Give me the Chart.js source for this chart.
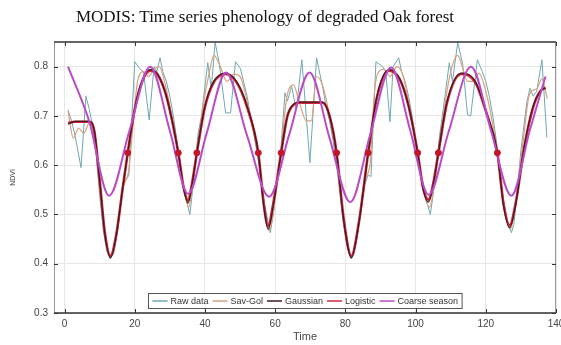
<!DOCTYPE html>
<html>
<head>
<meta charset="utf-8">
<script src="https://cdn.jsdelivr.net/npm/chart.js@4.4.1/dist/chart.umd.min.js"></script>
<style>
    html, body { margin: 0; padding: 0; background: #fff; }
    #wrap { position: relative; width: 561px; height: 345px; }
    #title {
        position: absolute; left: 0; top: 8px; width: 530px;
        text-align: center; line-height: 17px;
        font-family: "Liberation Serif", "Times New Roman", serif;
        font-size: 17px; color: #111;
    }
    canvas { position: absolute; left: 0; top: 0; }
</style>
</head>
<body>
<div id="wrap">
    <canvas id="chart" width="561" height="345"></canvas>
    <div id="title">MODIS: Time series phenology of degraded Oak forest</div>
</div>
<script>
const xTicks = [0, 20, 40, 60, 80, 100, 120, 140];
const yTicks = [0.3, 0.4, 0.5, 0.6, 0.7, 0.8];

// raw NDVI samples
const rawT = [1, 2, 3, 4.7, 6.1, 7, 8, 9, 10, 11, 12, 13, 14, 15, 16, 17, 18.3, 20, 21.5, 22.5, 24.1, 25.5, 26.3, 27.2, 28, 29, 30, 31, 32, 33, 34, 35, 35.7,
    36.5, 37.3, 38, 39, 40.8, 41.8, 42.9, 44, 45.9, 47.3, 48.7, 50.1, 51, 52, 53, 54, 55, 56, 57, 58.6, 59.5, 60.5, 61.5, 62.8, 63.5, 64.7, 66, 67.6, 69.9,
    71.8, 73.6, 74.5, 75.5, 76.5, 77.5, 78.5, 79.5, 80.5, 81.7, 82.5, 83.5, 84.5, 85.5, 86.5, 87.3, 88.7, 90.6, 91.5, 92.7, 93.6, 95.2, 96, 97, 98, 99, 100,
    101, 102, 103, 104.2, 105, 106, 106.8, 108, 109.6, 110.5, 112, 113.4, 114.8, 115.7, 117.6, 119, 120, 121, 122, 123, 124, 125, 126, 127.3, 128, 129, 130,
    131.7, 132.6, 133.5, 134.5, 136, 137.4];
const rawY = [0.712, 0.69, 0.66, 0.595, 0.74, 0.715, 0.68, 0.62, 0.54, 0.47, 0.425, 0.41, 0.42, 0.46, 0.52, 0.57, 0.578, 0.81, 0.795, 0.79, 0.692, 0.80, 0.79, 0.818, 0.79, 0.77, 0.74, 0.70, 0.65, 0.60, 0.55, 0.52, 0.50,
    0.55, 0.61, 0.662, 0.70, 0.808, 0.756, 0.849, 0.81, 0.706, 0.706, 0.81, 0.796, 0.77, 0.74, 0.70, 0.66, 0.62, 0.57, 0.52, 0.463, 0.50, 0.57, 0.62, 0.747, 0.73, 0.76, 0.712, 0.814, 0.605,
    0.818, 0.756, 0.72, 0.69, 0.65, 0.60, 0.54, 0.48, 0.435, 0.41, 0.42, 0.46, 0.51, 0.56, 0.58, 0.577, 0.81, 0.80, 0.79, 0.688, 0.80, 0.818, 0.79, 0.77, 0.74, 0.70, 0.65,
    0.60, 0.56, 0.53, 0.50, 0.54, 0.60, 0.658, 0.72, 0.808, 0.77, 0.849, 0.806, 0.702, 0.70, 0.814, 0.79, 0.77, 0.74, 0.70, 0.65, 0.59, 0.53, 0.49, 0.463, 0.48, 0.55, 0.63,
    0.729, 0.756, 0.74, 0.75, 0.814, 0.656];

const savT = [1, 2.5, 4, 5.5, 7, 8.5, 10, 11.5, 13, 14.8, 16.5, 18.3, 19.5, 20.8, 22.5, 24, 25.5, 27, 28.5, 30, 32.4, 34, 35.4, 36.5, 38, 39.5, 41, 42.6, 44,
    46.3, 48.2, 50, 52, 55, 56.7, 58.3, 60, 61.7, 63.3, 65.2, 66.8, 68.9, 70.3, 71.8, 73.6, 75.5, 77.5, 79.5, 81.7, 83.8, 85.5, 87, 88.3, 89.5, 91, 92.7,
    94.7, 96.5, 98.5, 100.6, 102.2, 104, 105.3, 106.8, 108.5, 110, 112, 113.3, 114.8, 116.6, 118, 120, 123, 125, 127, 128.5, 130.5, 132.5, 134.5, 136, 137.5];
const savY = [0.71, 0.655, 0.675, 0.665, 0.685, 0.665, 0.56, 0.46, 0.418, 0.46, 0.55, 0.59, 0.68, 0.77, 0.79, 0.78, 0.795, 0.80, 0.77, 0.72, 0.625, 0.55, 0.515, 0.56, 0.64, 0.72, 0.78, 0.823, 0.807,
    0.77, 0.785, 0.78, 0.73, 0.63, 0.53, 0.467, 0.53, 0.63, 0.737, 0.763, 0.73, 0.69, 0.69, 0.78, 0.76, 0.70, 0.62, 0.49, 0.415, 0.48, 0.57, 0.60, 0.75, 0.79, 0.795, 0.78,
    0.80, 0.78, 0.71, 0.625, 0.55, 0.515, 0.56, 0.64, 0.73, 0.79, 0.823, 0.80, 0.77, 0.77, 0.787, 0.75, 0.64, 0.53, 0.47, 0.52, 0.64, 0.745, 0.755, 0.775, 0.735];

const gaussT = [1, 3, 7, 8.5, 10, 11.5, 13.1, 14.8, 16.5, 18, 20, 22, 24.4, 26.5, 29, 32.4, 34, 35.2, 36.3, 37.7, 40, 42.5, 45.9, 49, 52, 55.2, 56.7, 58,
    59.5, 61.7, 63.5, 65.5, 67, 73.5, 75.5, 77.5, 79.5, 81.7, 83.8, 86.5, 89, 92.4, 95.5, 98, 100.6, 102.2, 103.7, 105, 106.5, 109, 113, 117, 120, 123.3,
    125, 126.8, 128.5, 131, 133.5, 135.5, 137];
const gaussY = [0.683, 0.689, 0.689, 0.67, 0.57, 0.46, 0.412, 0.46, 0.55, 0.625, 0.715, 0.77, 0.794, 0.785, 0.74, 0.625, 0.55, 0.523, 0.56, 0.625, 0.72, 0.77, 0.787, 0.77, 0.72, 0.625, 0.52, 0.47,
    0.52, 0.625, 0.70, 0.725, 0.728, 0.728, 0.70, 0.625, 0.49, 0.412, 0.48, 0.625, 0.74, 0.794, 0.775, 0.72, 0.625, 0.55, 0.525, 0.56, 0.625, 0.73, 0.787, 0.77, 0.71, 0.625,
    0.52, 0.473, 0.52, 0.64, 0.72, 0.75, 0.757];

const logT = [1, 3, 7, 8.5, 10, 11.5, 13.1, 14.8, 16.5, 18, 20, 22, 24.4, 26.5, 29, 32.4, 34, 35.2, 36.3, 37.7, 40, 42.5, 45.9, 49, 52, 55.2, 56.7, 58,
    59.5, 61.7, 63.5, 65.5, 67, 73.5, 75.5, 77.5, 79.5, 81.7, 83.8, 86.5, 89, 92.4, 95.5, 98, 100.6, 102.2, 103.7, 105, 106.5, 109, 113, 117, 120, 123.3,
    125, 126.8, 128.5, 131, 133.5, 135.5, 137];
const logY = [0.686, 0.688, 0.688, 0.668, 0.57, 0.462, 0.416, 0.462, 0.55, 0.625, 0.714, 0.768, 0.792, 0.784, 0.74, 0.625, 0.552, 0.528, 0.562, 0.625, 0.718, 0.768, 0.785, 0.768, 0.718, 0.625, 0.524, 0.476,
    0.524, 0.625, 0.70, 0.724, 0.727, 0.727, 0.70, 0.625, 0.492, 0.416, 0.482, 0.625, 0.738, 0.792, 0.774, 0.72, 0.625, 0.552, 0.53, 0.562, 0.625, 0.728, 0.785, 0.768, 0.71, 0.625,
    0.524, 0.478, 0.522, 0.638, 0.718, 0.75, 0.757];

const coarseT = [1, 7, 12.7, 18.5, 24.4, 30, 35.2, 40.5, 46, 52, 58.3, 64, 69.8, 75.5, 81.4, 87, 93, 98.5, 103.7, 109.5, 115.8, 121.5, 127.3, 132.5, 137];
const coarseY = [0.80, 0.69, 0.538, 0.67, 0.80, 0.67, 0.542, 0.665, 0.788, 0.66, 0.536, 0.662, 0.788, 0.655, 0.525, 0.66, 0.798, 0.67, 0.54, 0.67, 0.80, 0.67, 0.538, 0.67, 0.78];

// start / end of season markers
const seasonT = [18, 32.4, 37.7, 55.2, 61.7, 77.5, 86.5, 100.6, 106.5, 123.3];
const seasonY = [0.625, 0.625, 0.625, 0.625, 0.625, 0.625, 0.625, 0.625, 0.625, 0.625];

function points(ts, ys) {
    return ts.map((t, i) => ({ x: t, y: ys[i] }));
}

const tickFont = { family: "Liberation Sans, Arial, sans-serif", size: 10 };

// matlab style box with inward ticks
const framePlugin = {
    id: "frame",
    afterDraw(chart) {
        const { ctx, chartArea: a, scales } = chart;
        ctx.save();
        ctx.strokeStyle = "#999";
        ctx.lineWidth = 1;
        ctx.beginPath();
        ctx.moveTo(a.left + 0.5, a.top);
        ctx.lineTo(a.left + 0.5, a.bottom);
        ctx.moveTo(a.right - 0.5, a.top);
        ctx.lineTo(a.right - 0.5, a.bottom);
        ctx.stroke();

        ctx.strokeStyle = "#333";
        ctx.lineWidth = 1.5;
        ctx.beginPath();
        ctx.moveTo(a.left, a.top);
        ctx.lineTo(a.right, a.top);
        ctx.moveTo(a.left, a.bottom);
        ctx.lineTo(a.right, a.bottom);
        ctx.stroke();

        ctx.lineWidth = 1;
        ctx.beginPath();
        xTicks.forEach(v => {
            const px = Math.round(scales.x.getPixelForValue(v)) + 0.5;
            ctx.moveTo(px, a.top);
            ctx.lineTo(px, a.top + 4);
            ctx.moveTo(px, a.bottom);
            ctx.lineTo(px, a.bottom - 4);
        });
        yTicks.forEach(v => {
            const py = Math.round(scales.y.getPixelForValue(v)) + 0.5;
            ctx.moveTo(a.left, py);
            ctx.lineTo(a.left + 4, py);
            ctx.moveTo(a.right, py);
            ctx.lineTo(a.right - 4, py);
        });
        ctx.stroke();

        // legend box inside the axes
        const items = chart.data.datasets.filter(d => d.inLegend);
        ctx.font = "9px Liberation Sans, Arial, sans-serif";
        const pad = 4, lineLen = 15, gapLine = 3, gapText = 4;
        let w = pad * 2;
        items.forEach((d, i) => {
            w += lineLen + gapLine + ctx.measureText(d.label).width;
            if (i < items.length - 1) w += gapText;
        });
        const h = 15;
        const bx = Math.round((a.left + a.right) / 2 - w / 2) + 0.5;
        const by = Math.round(a.bottom - 5 - h) + 0.5;
        ctx.fillStyle = "#fff";
        ctx.fillRect(bx, by, w, h);
        ctx.strokeStyle = "#555";
        ctx.lineWidth = 1;
        ctx.strokeRect(bx, by, w, h);

        let x = bx + pad;
        const cy = by + h / 2;
        items.forEach(d => {
            ctx.strokeStyle = d.borderColor;
            ctx.lineWidth = 1.5;
            ctx.beginPath();
            ctx.moveTo(x, cy);
            ctx.lineTo(x + lineLen, cy);
            ctx.stroke();
            x += lineLen + gapLine;
            ctx.fillStyle = "#333";
            ctx.textBaseline = "middle";
            ctx.fillText(d.label, x, cy + 0.5);
            x += ctx.measureText(d.label).width + gapText;
        });
        ctx.restore();
    }
};

new Chart(document.getElementById("chart"), {
    type: "line",
    data: {
        datasets: [
            {
                label: "Raw data",
                data: points(rawT, rawY),
                borderColor: "#6fa7b0",
                borderWidth: 1,
                tension: 0,
                order: 5,
                inLegend: true
            },
            {
                label: "Sav-Gol",
                data: points(savT, savY),
                borderColor: "#d9a07c",
                borderWidth: 1.2,
                cubicInterpolationMode: "monotone",
                order: 4,
                inLegend: true
            },
            {
                label: "Gaussian",
                data: points(gaussT, gaussY),
                borderColor: "#3d1c1c",
                borderWidth: 1.2,
                cubicInterpolationMode: "monotone",
                order: 2,
                inLegend: true
            },
            {
                label: "Logistic",
                data: points(logT, logY),
                borderColor: "#d0263f",
                borderWidth: 2.6,
                cubicInterpolationMode: "monotone",
                order: 3,
                inLegend: true
            },
            {
                label: "Coarse season",
                data: points(coarseT, coarseY),
                borderColor: "#b94cc6",
                borderWidth: 2,
                cubicInterpolationMode: "monotone",
                order: 1,
                inLegend: true
            },
            {
                label: "Season start/end",
                data: points(seasonT, seasonY),
                showLine: false,
                pointRadius: 3,
                pointBackgroundColor: "#c4162a",
                pointBorderColor: "#c4162a",
                order: 0,
                inLegend: false
            }
        ]
    },
    options: {
        responsive: false,
        animation: false,
        devicePixelRatio: 1,
        layout: { padding: { top: 42, right: 2, left: 0, bottom: 0 } },
        elements: { point: { radius: 0 } },
        plugins: {
            legend: { display: false },
            tooltip: { enabled: false }
        },
        scales: {
            x: {
                type: "linear",
                min: -3,
                max: 140,
                afterBuildTicks: (scale) => { scale.ticks = xTicks.map(v => ({ value: v })); },
                afterFit: (scale) => { scale.height = 32; scale.paddingLeft = 0; scale.paddingRight = 0; },
                ticks: {
                    autoSkip: false,
                    maxRotation: 0,
                    padding: 5,
                    color: "#444",
                    font: tickFont,
                    callback: (v) => String(v)
                },
                grid: { color: "#e6e6e6", drawTicks: false },
                border: { display: false },
                title: {
                    display: true,
                    text: "Time",
                    color: "#444",
                    font: { family: "Liberation Sans, Arial, sans-serif", size: 11 },
                    padding: { top: 0, bottom: 1 }
                }
            },
            y: {
                min: 0.3,
                max: 0.85,
                afterBuildTicks: (scale) => { scale.ticks = yTicks.map(v => ({ value: v })); },
                afterFit: (scale) => { scale.width = 54; },
                ticks: {
                    padding: 6,
                    color: "#444",
                    font: tickFont,
                    callback: (v) => v.toFixed(1)
                },
                grid: { color: "#e6e6e6", drawTicks: false },
                border: { display: false },
                title: {
                    display: true,
                    text: "NDVI",
                    color: "#444",
                    font: { family: "Liberation Sans, Arial, sans-serif", size: 7 },
                    padding: { top: 9, bottom: 0 }
                }
            }
        }
    },
    plugins: [framePlugin]
});
</script>
</body>
</html>
